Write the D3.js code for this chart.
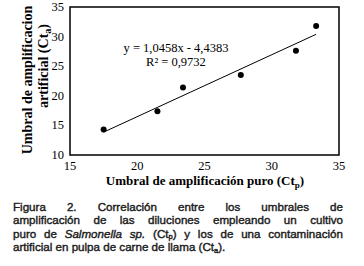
<html>
<head>
<script src="https://d3js.org/d3.v7.min.js"></script>
<style>
  body { margin: 0; background: #fff; }
  #wrap { position: relative; width: 364px; height: 266px; }
  #caption {
    position: absolute; left: 13px; top: 200px; width: 330px;
    font: 11.6px "Liberation Sans", Arial, sans-serif; color: #1a1a1a;
    -webkit-text-stroke: 0.4px #1a1a1a; line-height: 13.4px;
  }
  #caption div { text-align: justify; text-align-last: justify; white-space: nowrap; height: 13.4px; }
  #caption div.last { text-align-last: left; }
  .sb { font-size: 7.5px; position: relative; top: 1.5px; line-height: 0; }
</style>
</head>
<body>
<div id="wrap">
<svg id="chart" width="364" height="200"></svg>
<div id="caption">
  <div>Figura&nbsp; 2.&nbsp; Correlación&nbsp; entre&nbsp; los&nbsp; umbrales&nbsp; de</div>
  <div>amplificación de las diluciones empleando un cultivo</div>
  <div>puro de <i>Salmonella sp.</i> (Ct<span class="sb">p</span>) y los de una contaminación</div>
  <div class="last">artificial en pulpa de carne de llama (Ct<span class="sb">a</span>).</div>
</div>
</div>
<script>
const ctPuro = [17.5, 21.5, 23.4, 27.7, 31.8, 33.3];
const ctArtificial = [14.3, 17.4, 21.4, 23.5, 27.6, 31.8];
const xTicks = [15, 20, 25, 30, 35];
const yTicks = [10, 15, 20, 25, 30, 35];
const slope = 1.0458, intercept = -4.4383;
const eqLabel = "y = 1,0458x - 4,4383";
const r2Label = "R² = 0,9732";

const svg = d3.select("#chart");
const x = d3.scaleLinear().domain([15, 35]).range([70, 339]);
const y = d3.scaleLinear().domain([10, 35]).range([155, 7]);
const serif = "'Liberation Serif', 'Times New Roman', serif";

// frame
svg.append("rect")
  .attr("x", x(15)).attr("y", y(35))
  .attr("width", x(35) - x(15)).attr("height", y(10) - y(35))
  .attr("fill", "none").attr("stroke", "#000").attr("stroke-width", 1.5);

// tick labels
svg.append("g").selectAll("text").data(xTicks).join("text")
  .attr("x", d => x(d)).attr("y", 170)
  .attr("text-anchor", "middle")
  .style("font", "12.5px " + serif).text(d => d);
svg.append("g").selectAll("text").data(yTicks).join("text")
  .attr("x", 64).attr("y", d => y(d) + 4)
  .attr("text-anchor", "end")
  .style("font", "12.5px " + serif).text(d => d);

// trend line
const xr = d3.extent(ctPuro);
svg.append("line")
  .attr("x1", x(xr[0])).attr("y1", y(slope * xr[0] + intercept))
  .attr("x2", x(xr[1])).attr("y2", y(slope * xr[1] + intercept))
  .attr("stroke", "#000").attr("stroke-width", 1);

// points
svg.append("g").selectAll("circle").data(ctPuro).join("circle")
  .attr("cx", d => x(d)).attr("cy", (d, i) => y(ctArtificial[i]))
  .attr("r", 3).attr("fill", "#000");

// equation
svg.append("text").attr("x", 176).attr("y", 52).attr("text-anchor", "middle")
  .style("font", "12.5px " + serif).text(eqLabel);
svg.append("text").attr("x", 176).attr("y", 66).attr("text-anchor", "middle")
  .style("font", "12.5px " + serif).text(r2Label);

// axis titles
const xt = svg.append("text").attr("x", 205).attr("y", 185).attr("text-anchor", "middle")
  .style("font", "bold 13px " + serif);
xt.append("tspan").text("Umbral de amplificación puro (Ct");
xt.append("tspan").attr("dy", 3).style("font-size", "9px").text("p");
xt.append("tspan").attr("dy", -3).text(")");

const yt = svg.append("text").attr("transform", "translate(32,80) rotate(-90)")
  .attr("text-anchor", "middle").style("font", "bold 14px " + serif);
yt.append("tspan").text("Umbral de amplificacion");
const yt2 = svg.append("text").attr("transform", "translate(48,66) rotate(-90)")
  .attr("text-anchor", "middle").style("font", "bold 14px " + serif);
yt2.append("tspan").text("artificial (Ct");
yt2.append("tspan").attr("dy", 3).style("font-size", "10px").text("a");
yt2.append("tspan").attr("dy", -3).text(")");
</script>
</body>
</html>
